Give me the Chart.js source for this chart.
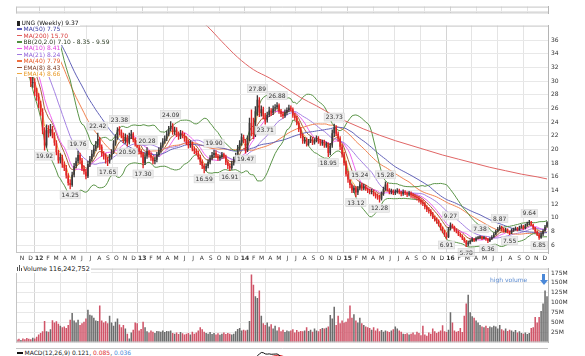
<!DOCTYPE html>
<html><head><meta charset="utf-8">
<script src="https://cdn.jsdelivr.net/npm/chart.js@4.4.1/dist/chart.umd.min.js"></script>
<style>
html,body{margin:0;padding:0;background:#fff}
body{width:585px;height:356px;overflow:hidden;position:relative;font-family:"DejaVu Sans",Verdana,sans-serif;color:#222}
.box{position:absolute;left:0;width:585px}
#legend{position:absolute;left:16px;top:19.8px;font-size:6px;line-height:6.4px;z-index:5}
#legend div{height:6.4px;white-space:nowrap}
#legend .t{display:inline-block;height:6.4px;background:#fff;padding-right:1px}
.ic{display:inline-block;width:5px;height:1.4px;vertical-align:middle;margin:0 1.5px 0 1px;position:relative;top:-0.5px}
.txt{position:absolute;white-space:nowrap;z-index:5}
</style></head>
<body>
<div class="box" style="top:0;height:20px"><canvas id="c0"></canvas></div>
<div class="box" style="top:19px;height:246px"><canvas id="c1"></canvas></div>
<div class="box" style="top:348px;height:60px"><canvas id="c3"></canvas></div>
<div class="box" style="top:262px;height:87px"><canvas id="c2"></canvas></div>

<div id="legend">
 <div><span class="t"><i class="ic" style="width:3px;height:5px;background:#222;top:0"></i><span style="color:#111">UNG (Weekly) 9.37</span></span></div>
 <div><span class="t"><i class="ic" style="background:#5b5bb5"></i><span style="color:#3b3ba5">MA(50) 7.75</span></span></div>
 <div><span class="t"><i class="ic" style="background:#e05a5a"></i><span style="color:#d83c3c">MA(200) 15.70</span></span></div>
 <div><span class="t"><i class="ic" style="background:#4f8f3f"></i><span style="color:#2a3a22">BB(20,2.0) 7.10 - 8.35 - 9.59</span></span></div>
 <div><span class="t"><i class="ic" style="background:#ee55ee"></i><span style="color:#e040e0">MA(10) 8.41</span></span></div>
 <div><span class="t"><i class="ic" style="background:#a07ae0"></i><span style="color:#9060d8">MA(21) 8.24</span></span></div>
 <div><span class="t"><i class="ic" style="background:#f07040"></i><span style="color:#e85a28">MA(40) 7.79</span></span></div>
 <div><span class="t"><i class="ic" style="background:#9a5030"></i><span style="color:#7a3a20">EMA(8) 8.43</span></span></div>
 <div><span class="t"><i class="ic" style="background:#f0a840"></i><span style="color:#e89a28">EMA(4) 8.66</span></span></div>
</div>

<div class="txt" style="left:16px;top:265px;font-size:6.4px;line-height:8px;background:#fff;padding-right:1px"><i style="display:inline-block;width:1.2px;height:4px;background:#555;margin-left:1px"></i><i style="display:inline-block;width:1.2px;height:6px;background:#555;margin-left:0.6px"></i><i style="display:inline-block;width:1.2px;height:3px;background:#555;margin:0 1.5px 0 0.6px"></i>Volume 116,242,752</div>
<div class="txt" style="left:490px;top:276px;font-size:6px;line-height:7px;color:#5a8ad0">high volume</div>
<div class="txt" style="left:542px;top:274px;width:3px;height:6px;background:#4a88d8"></div>
<div class="txt" style="left:539.5px;top:280px;width:0;height:0;border-left:4px solid transparent;border-right:4px solid transparent;border-top:5px solid #4a88d8"></div>
<div class="txt" style="left:16px;top:348.5px;font-size:6px;line-height:7px;background:#fff;padding-right:1px"><i style="display:inline-block;width:6px;height:1.4px;background:#111;vertical-align:middle;margin:0 1.5px 0 1px"></i>MACD(12,26,9) 0.121, <span style="color:#e03030">0.085</span>, <span style="color:#4a88d8">0.036</span></div>

<script>
// ---- data (weekly, first week = 14 Oct 2011) ----
const closes = [
36.6,35.4,35.9,34.2,33.5,32.0,31.2,29.7,29.9,28.4,
27.7,26.6,25.5,22.8,20.6,22.9,22.4,23.0,22.1,21.0,
19.6,18.4,18.9,17.8,17.3,16.2,15.1,14.8,16.3,17.6,
18.3,19.2,18.4,17.2,16.8,16.1,17.9,18.6,19.4,20.1,
20.6,21.5,20.4,19.3,19.0,18.5,18.3,18.9,19.6,20.9,
21.8,22.9,22.6,22.1,21.3,21.8,21.0,22.0,22.3,21.4,
20.9,20.3,19.8,19.3,18.0,19.0,19.7,19.2,18.8,18.3,
18.5,19.2,19.9,20.6,21.2,21.6,22.3,23.0,23.5,22.6,
22.9,22.2,21.9,22.4,22.1,21.6,21.1,20.6,20.9,20.1,
19.8,19.5,18.9,18.2,17.6,17.2,17.6,18.2,18.8,19.2,
19.5,19.1,18.7,18.9,19.3,19.0,18.1,17.6,17.3,18.0,
18.5,19.1,20.2,20.9,21.8,21.3,19.9,21.6,23.9,22.8,
22.2,25.6,27.3,25.4,25.9,24.9,24.3,25.1,25.7,25.4,
26.0,26.2,26.5,25.6,25.2,24.9,25.4,25.8,26.1,25.9,
25.0,24.6,23.9,22.9,22.0,21.2,21.4,20.9,21.2,21.5,
21.0,21.3,21.6,21.2,20.9,21.1,20.6,20.8,19.5,20.6,
22.4,23.2,22.3,21.6,20.4,19.3,18.0,16.4,15.6,14.8,
14.0,14.4,13.7,14.3,14.9,14.3,14.6,14.2,14.0,13.8,
13.9,13.4,13.2,13.0,12.8,13.5,14.2,14.9,14.1,13.8,
13.9,13.6,13.8,14.0,13.7,13.5,13.8,13.6,13.4,13.6,
13.3,13.2,13.0,12.9,12.6,12.3,12.1,11.6,11.2,11.0,
10.6,10.1,9.8,9.5,9.0,8.5,8.0,7.6,7.2,8.4,
9.0,8.7,8.2,8.0,7.6,7.4,7.0,6.6,6.1,6.4,
6.6,6.9,6.7,7.0,7.1,7.3,7.0,7.1,6.9,6.6,
6.9,7.2,7.6,8.0,8.4,8.7,8.3,8.1,8.3,8.0,
7.8,8.2,8.3,8.5,8.3,8.6,8.8,8.5,8.9,9.2,
9.4,9.0,8.5,8.0,7.6,7.1,7.6,8.1,8.7,9.37];

const highs = [
37.8,37.2,36.5,36.4,34.9,34.0,32.6,31.8,30.6,30.4,
29.0,28.2,27.1,26.0,23.2,23.6,23.5,23.7,23.4,22.5,
21.3,19.9,19.4,19.2,18.2,17.7,16.5,15.6,16.7,18.0,
18.8,19.76,19.5,18.7,17.6,17.1,18.3,19.0,19.9,20.6,
21.2,22.42,21.8,20.7,19.7,19.4,18.9,19.3,20.0,21.3,
22.2,23.2,23.38,22.9,22.4,22.3,22.1,22.4,22.8,22.5,
21.7,21.2,20.6,20.0,19.6,19.4,20.28,19.9,19.5,19.0,
18.9,19.6,20.3,21.0,21.6,22.0,22.7,23.4,24.09,23.8,
23.3,23.2,22.6,22.8,22.7,22.4,21.9,21.4,21.3,21.1,
20.4,20.1,19.8,19.2,18.5,17.9,17.9,18.5,19.1,19.6,
19.90,19.8,19.3,19.2,19.6,19.5,19.2,18.4,17.9,18.3,
18.9,19.5,20.6,21.3,22.3,22.1,21.5,22.0,24.6,25.8,
24.6,26.3,27.89,27.6,26.4,26.2,25.3,25.5,26.2,26.0,
26.4,26.6,26.88,26.7,25.9,25.5,25.8,26.1,26.5,26.4,
26.1,25.3,24.9,24.1,23.2,22.3,21.8,21.7,21.5,21.9,
21.8,21.6,22.0,21.9,21.5,21.4,21.4,21.1,21.0,20.9,
22.9,23.73,23.5,22.6,21.9,20.7,19.6,18.3,16.8,15.9,
15.0,14.7,14.6,14.6,15.24,15.1,14.9,14.8,14.4,14.2,
14.2,14.1,13.7,13.5,13.3,13.8,14.5,15.28,15.1,14.3,
14.2,14.1,14.1,14.3,14.2,13.9,14.1,14.0,13.8,13.9,
13.8,13.6,13.4,13.2,13.1,12.8,12.6,12.3,11.8,11.5,
11.2,10.8,10.3,10.0,9.7,9.2,8.7,8.2,7.8,8.6,
9.27,9.1,8.8,8.4,8.1,7.8,7.5,7.1,6.7,6.6,
6.8,7.1,7.0,7.2,7.3,7.38,7.3,7.3,7.2,7.0,
7.1,7.4,7.8,8.2,8.6,8.87,8.8,8.5,8.5,8.4,
8.1,8.4,8.5,8.7,8.6,8.8,9.0,8.9,9.1,9.4,
9.64,9.5,9.1,8.6,8.1,7.7,7.8,8.3,8.9,9.45];

const lows = [
36.0,35.0,34.9,33.8,32.9,31.5,30.6,29.2,29.1,27.9,
27.2,26.1,25.0,22.3,19.92,20.3,21.8,22.0,21.7,20.6,
19.2,18.0,18.0,17.4,16.9,15.8,14.8,14.25,14.6,16.0,
17.3,18.0,18.0,16.9,16.4,15.7,15.9,17.5,18.3,19.0,
19.8,20.3,20.0,19.0,18.6,18.0,17.65,18.0,18.6,19.4,
20.6,21.5,22.1,21.7,21.0,20.9,20.5,20.8,21.6,21.1,
20.5,20.0,19.4,18.9,17.30,17.8,18.7,18.9,18.4,17.9,
17.9,18.2,19.0,19.6,20.3,20.9,21.3,22.0,22.7,22.2,
22.2,21.9,21.5,21.6,21.7,21.2,20.7,20.2,20.3,19.8,
19.4,19.2,18.6,17.8,17.2,16.59,16.9,17.3,17.9,18.5,
18.9,18.8,18.4,18.4,18.7,18.7,17.8,17.2,16.91,17.1,
17.7,18.2,18.9,19.9,20.6,21.0,19.47,19.7,21.3,22.0,
21.6,21.9,25.0,24.8,24.9,24.5,23.71,24.0,24.8,25.0,
25.1,25.6,25.9,25.3,24.8,24.6,24.7,25.1,25.5,25.6,
24.7,24.3,23.6,22.6,21.7,20.9,20.9,20.5,20.6,21.0,
20.7,20.8,21.1,20.9,20.6,20.6,20.3,20.3,18.95,19.2,
20.3,21.9,22.0,21.2,20.0,18.9,17.7,16.1,15.2,14.4,
13.7,13.7,13.12,13.4,14.1,14.0,14.1,14.0,13.7,13.5,
13.5,13.2,12.9,12.7,12.28,12.6,13.3,14.0,13.9,13.5,
13.5,13.4,13.4,13.6,13.5,13.2,13.3,13.4,13.1,13.2,
13.0,12.9,12.8,12.6,12.3,12.0,11.8,11.3,10.9,10.7,
10.3,9.9,9.5,9.2,8.8,8.2,7.8,7.3,6.91,7.1,
8.2,8.5,8.0,7.8,7.4,7.2,6.8,6.4,5.78,5.9,
6.2,6.5,6.5,6.6,6.9,7.0,6.8,6.9,6.7,6.36,
6.5,6.8,7.1,7.5,7.9,8.2,8.1,7.9,7.9,7.8,
7.55,7.7,8.0,8.2,8.1,8.2,8.5,8.3,8.4,8.8,
9.0,8.9,8.3,7.8,7.4,6.85,7.0,7.4,8.0,8.6];

// closes of the 50 weeks before the window (only used to warm up the averages)
const priorCloses = [
46.0,45.2,44.5,45.8,46.9,47.5,46.2,45.0,44.1,43.2,
44.0,45.3,44.8,43.9,43.0,42.4,41.8,42.9,43.6,44.7,
45.9,46.8,47.6,46.5,45.1,44.3,45.6,46.8,47.9,48.6,
47.2,46.0,44.8,43.5,44.2,45.0,43.8,42.6,41.9,42.8,
43.5,42.2,41.0,40.1,39.4,40.2,39.0,38.3,37.6,37.0];

// weekly volume, millions of shares
const volumes = [
7,9,6,10,8,11,9,8,12,10,
14,20,24,28,54,28,27,33,56,50,
53,47,42,38,40,36,44,57,74,55,
50,57,44,48,52,60,82,70,68,62,
55,54,93,55,50,53,48,67,50,42,
52,60,45,38,44,35,22,10,25,32,
50,48,30,34,52,38,28,25,30,27,
24,29,28,27,30,26,29,28,30,24,
22,25,21,26,23,20,22,24,20,27,
22,25,30,38,33,27,24,22,26,21,
24,20,23,19,22,25,21,24,22,20,
22,28,34,36,30,32,30,32,54,171,
145,116,112,131,67,48,44,50,40,46,
35,42,30,38,28,32,26,30,28,30,
33,25,31,27,29,28,30,38,29,32,
27,35,30,28,34,36,35,37,40,69,
60,90,44,67,48,55,50,52,60,93,
62,71,55,50,62,48,44,40,38,36,
32,38,30,35,28,31,27,30,28,26,
30,33,40,35,30,27,22,21,23,20,
22,25,20,27,24,18,42,20,17,25,
22,35,28,24,27,30,43,28,26,32,
76,50,30,27,29,36,26,67,98,120,
76,66,62,55,50,44,40,38,42,36,
40,38,42,40,35,44,33,30,35,29,
32,30,27,31,25,28,24,22,25,21,
24,36,38,64,50,64,79,98,131,116.24];

// 200-week average (week index / value)
const ma200Idx = [94,96,104,112,120,128,136,144,152,160,168,176,184,192,200,208,216,224,232,240,248,256,264,269];
const ma200Val = [38.6,38.2,35.8,33.5,31.7,30.5,29.1,27.6,26.4,25.1,24.0,23.0,22.1,21.3,20.6,19.9,19.2,18.6,18.0,17.4,16.9,16.4,16.0,15.7];

// annotated highs (1) and lows (-1)
const noteIdx  = [14,27,31,41,46,52,56,64,66,78,95,100,108,116,122,126,132,158,161,172,174,184,187,218,220,228,235,239,245,250,260,265];
const noteVal  = [19.92,14.25,19.76,22.42,17.65,23.38,20.50,17.30,20.28,24.09,16.59,19.90,16.91,19.47,27.89,23.71,26.88,18.95,23.73,13.12,15.24,12.28,15.28,6.91,9.27,5.78,7.38,6.36,8.87,7.55,9.64,6.85];
const noteSide = [-1,-1,1,1,-1,1,-1,-1,1,1,-1,1,-1,-1,1,-1,1,-1,1,-1,1,-1,1,-1,1,-1,1,-1,1,-1,1,-1];

const priceTicks = [6,8,10,12,14,16,18,20,22,24,26,28,30,32,34,36];
const volTicks = [25,50,75,100,125,150,175];
const monthLetters = ['J','F','M','A','M','J','J','A','S','O','N','D'];

// ---- derived ----
const N = closes.length;
const idx = closes.map((_, i) => i);
const all = priorCloses.concat(closes);
const P = priorCloses.length;
function sma(n){ return closes.map((_, i) => { const j = i + P; if (j - n + 1 < 0) return null; let s = 0; for (let k = j - n + 1; k <= j; k++) s += all[k]; return s / n; }); }
function emaOf(arr, n){ const a = 2/(n+1); let e = arr[0]; return arr.map((v, j) => (e = j === 0 ? v : a*v + (1-a)*e)); }
function ema(n){ return emaOf(all, n).slice(P); }
function band(n, k){ return closes.map((_, i) => { const j = i + P; let s = 0, q = 0; for (let t = j-n+1; t <= j; t++){ s += all[t]; } const m = s/n; for (let t = j-n+1; t <= j; t++){ q += (all[t]-m)*(all[t]-m); } return m + k*Math.sqrt(q/n); }); }
const ma10 = sma(10), ma21 = sma(21), ma40 = sma(40), ma50 = sma(50), ema4 = ema(4), ema8 = ema(8);
const bbU = band(20, 2), bbL = band(20, -2);
const ma200 = closes.map(() => null); ma200Idx.forEach((i, k) => ma200[i] = ma200Val[k]);
const opens = closes.map((c, i) => i === 0 ? priorCloses[P-1] : closes[i-1]);
const up = closes.map((c, i) => c >= opens[i]);
const candles = closes.map((c, i) => [opens[i], c]);
const wicks = closes.map((c, i) => [lows[i], highs[i]]);
const candleCol = up.map(u => u ? '#3a3a3a' : '#e02424');
const e12 = emaOf(all, 12), e26 = emaOf(all, 26);
const macdAll = e12.map((v, j) => v - e26[j]);
const sigAll = emaOf(macdAll, 9);
const macd = macdAll.slice(P), macdSig = sigAll.slice(P);
const macdTop = Math.max.apply(null, macd) + 0.3;

const startMs = Date.UTC(2011, 9, 14), WEEK = 7*864e5;
const monthTicks = [];
for (let y = 2011, m = 10; ; ) { const v = (Date.UTC(y, m, 1) - startMs)/WEEK; if (v > N - 0.5) break; monthTicks.push({value: v, m: m, y: y}); m++; if (m > 11){ m = 0; y++; } }
const tickLabel = i => { const t = monthTicks[i]; if (!t) return ''; return t.m === 0 ? String(t.y).slice(2) : monthLetters[t.m]; };
const gridCol = i => { const t = monthTicks[i]; if (!t) return 'rgba(0,0,0,0)'; if (t.m === 0) return '#d4d4d4'; return (t.m % 3 === 0) ? '#e4e4e4' : 'rgba(0,0,0,0)'; };

const FONT = 'DejaVu Sans';
function xScale(labels){
  return { type: 'linear', min: -0.5, max: N - 0.5, offset: false,
    afterBuildTicks: s => { s.ticks = monthTicks.map(t => ({value: t.value})); },
    afterFit: s => { s.height = labels ? 12 : 0; },
    ticks: { display: labels, autoSkip: false, maxRotation: 0, minRotation: 0, padding: 2, color: '#333',
      font: c => ({family: FONT, size: 6, weight: (monthTicks[c.index] && monthTicks[c.index].m === 0) ? 'bold' : 'normal'}),
      callback: (v, i) => tickLabel(i) },
    grid: { color: c => gridCol(c.index), drawTicks: false, lineWidth: 1 },
    border: { display: false } };
}
function yScale(min, max, ticks, fmt){
  return { position: 'right', min: min, max: max,
    afterBuildTicks: s => { s.ticks = ticks.map(v => ({value: v})); },
    afterFit: s => { s.width = 37; },
    ticks: { color: '#333', font: {family: FONT, size: 6}, padding: 3, callback: fmt },
    grid: { color: '#e8e8e8', drawTicks: false },
    border: { display: true, color: '#b4b4b4' } };
}
const frame = { id: 'frame', afterDraw(chart){ const a = chart.chartArea, ctx = chart.ctx; ctx.save(); ctx.strokeStyle = '#c4c4c4'; ctx.lineWidth = 1; ctx.beginPath(); ctx.moveTo(a.left + 0.5, a.top + 0.5); ctx.lineTo(a.right, a.top + 0.5); ctx.moveTo(a.left + 0.5, a.top); ctx.lineTo(a.left + 0.5, a.bottom); ctx.moveTo(a.left, a.bottom - 0.5); ctx.lineTo(a.right, a.bottom - 0.5); ctx.stroke(); ctx.restore(); } };
const notes = { id: 'notes', afterDatasetsDraw(chart){ const ctx = chart.ctx, x = chart.scales.x, y = chart.scales.y; ctx.save(); ctx.font = '6px "' + FONT + '"'; ctx.textAlign = 'center'; ctx.textBaseline = 'middle';
  noteIdx.forEach((i, k) => { const v = noteVal[k]; const px = x.getPixelForValue(i); const py = y.getPixelForValue(v) + (noteSide[k] > 0 ? -7 : 6); const t = v.toFixed(2); const w = ctx.measureText(t).width + 3;
    ctx.fillStyle = '#ececec'; ctx.fillRect(px - w/2, py - 4, w, 8); ctx.strokeStyle = '#d6d6d6'; ctx.lineWidth = 0.6; ctx.strokeRect(px - w/2, py - 4, w, 8); ctx.fillStyle = '#333'; ctx.fillText(t, px, py + 0.5); });
  ctx.restore(); } };

const base = { responsive: true, maintainAspectRatio: false, animation: false, devicePixelRatio: 1, events: [],
  plugins: { legend: { display: false }, tooltip: { enabled: false } } };

function line(data, color, order, extra){ return Object.assign({ type: 'line', data: data, borderColor: color, borderWidth: 1, pointRadius: 0, fill: false, tension: 0, order: order }, extra || {}); }

// top strip
new Chart(document.getElementById('c0'), { type: 'line',
  data: { labels: idx, datasets: [ line(closes.map(() => null), '#000', 1) ] },
  options: Object.assign({}, base, { layout: { padding: { left: 16, right: 0, top: 0, bottom: 1 } },
    scales: { x: xScale(false), y: yScale(0, 17.27, [3.6, 10], v => v === 10 ? '10' : '') } }),
  plugins: [frame] });

// price panel
new Chart(document.getElementById('c1'), { type: 'bar',
  data: { labels: idx, datasets: [
    { type: 'bar', data: candles, backgroundColor: candleCol, borderWidth: 0, categoryPercentage: 1, barPercentage: 0.8, minBarLength: 1, grouped: false, order: 0 },
    { type: 'bar', data: wicks, backgroundColor: candleCol, borderWidth: 0, barThickness: 0.7, grouped: false, order: 1 },
    line(ma200, '#e06666', 2, { spanGaps: true, cubicInterpolationMode: 'monotone' }),
    line(bbU, '#5a9448', 3), line(bbL, '#5a9448', 3),
    line(ma50, '#6262b8', 4), line(ma40, '#f08250', 4),
    line(ma21, '#a482e2', 4), line(ma10, '#ee66ee', 4),
    line(ema8, '#a8603a', 4), line(ema4, '#f2b24e', 4)
  ] },
  options: Object.assign({}, base, { layout: { padding: { left: 16, right: 0, top: 1, bottom: 0 } },
    scales: { x: xScale(true), y: yScale(4.857, 38.143, priceTicks, v => String(v)) } }),
  plugins: [frame, notes] });

// volume panel
new Chart(document.getElementById('c2'), { type: 'bar',
  data: { labels: idx, datasets: [
    { data: volumes, backgroundColor: up.map(u => u ? '#6c6c6c' : '#d05468'), borderWidth: 0, categoryPercentage: 1, barPercentage: 0.78 }
  ] },
  options: Object.assign({}, base, { layout: { padding: { left: 16, right: 0, top: 1, bottom: 1.7 } },
    scales: { x: xScale(false), y: yScale(0, 186, volTicks, v => v + 'M') } }),
  plugins: [frame] });

// MACD panel (only its top edge is inside the picture)
new Chart(document.getElementById('c3'), { type: 'line',
  data: { labels: idx, datasets: [ line(macd, '#111', 0), line(macdSig, '#e03030', 1) ] },
  options: Object.assign({}, base, { layout: { padding: { left: 16, right: 37, top: 0, bottom: 0 } },
    scales: { x: { type: 'linear', min: -0.5, max: N - 0.5, display: false }, y: { min: macdTop - 4, max: macdTop, display: false } } }),
  plugins: [frame] });
</script>
</body></html>
